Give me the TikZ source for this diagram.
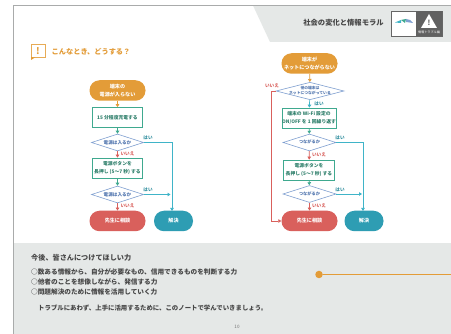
\documentclass[tikz,border=0pt]{standalone}
\usepackage{fontspec}
\setmainfont{Noto Sans CJK JP}
\usetikzlibrary{arrows.meta,shapes.geometric}
\definecolor{cOrange}{HTML}{E39C38}
\definecolor{cGreen}{HTML}{3FA98F}
\definecolor{cBlueLine}{HTML}{7F9FD0}
\definecolor{cBlueTxt}{HTML}{4F74AE}
\definecolor{cTeal}{HTML}{3FB4C8}
\definecolor{cRed}{HTML}{D9605C}
\definecolor{cDarkTeal}{HTML}{2E9DB3}
\definecolor{cBand}{HTML}{E5E8E7}
\definecolor{cEdge}{HTML}{A9ABAB}
\newcommand{\dlabel}[1]{\smash{\raisebox{-0.28em}{\makebox[0pt]{\begin{tabular}{@{}c@{}}#1\end{tabular}}}}}
\tikzset{
  term/.style={rounded corners=10pt,minimum height=20.5pt,inner sep=0pt,text=white,font=\bfseries\fontsize{5.1}{8.5}\selectfont,align=center},
  startterm/.style={term,fill=cOrange,minimum width=56pt},
  failterm/.style={term,fill=cRed,minimum width=56pt},
  doneterm/.style={term,fill=cDarkTeal,minimum width=39pt},
  procbox/.style={draw=cGreen,line width=0.7pt,fill=white,minimum width=50.5pt,minimum height=20pt,inner sep=0pt,text=cGreen!75!black,font=\bfseries\fontsize{4.8}{8}\selectfont,align=center},
  decide/.style={diamond,draw=cBlueLine,line width=0.6pt,fill=white,inner sep=0pt,text=cBlueTxt,font=\bfseries\fontsize{4.6}{7.5}\selectfont},
  arrowO/.style={draw=cOrange,line width=0.7pt,-{Triangle[length=3pt,width=3.5pt]}},
  arrowG/.style={draw=cGreen,line width=0.7pt,-{Triangle[length=3pt,width=3.5pt]}},
  arrowR/.style={draw=cRed,line width=0.7pt,-{Triangle[length=3pt,width=3.5pt]}},
  arrowT/.style={draw=cTeal,line width=0.7pt,-{Triangle[length=3pt,width=3.5pt]}},
  lblY/.style={text=cTeal!80!black,font=\bfseries\fontsize{4.6}{5}\selectfont,inner sep=0pt},
  lblN/.style={text=cRed,font=\bfseries\fontsize{4.6}{5}\selectfont,inner sep=0pt},
  body/.style={anchor=west,inner sep=0pt,text=black!72,font=\bfseries\fontsize{6.65}{7}\selectfont}
}
\begin{document}
\begin{tikzpicture}[x=1pt,y=-1pt]
\useasboundingbox (0,0) rectangle (451,334);
\fill[white] (0,0) rectangle (451,334);
% frame and bands
\fill[cBand] (253,5.5) -- (451,5.5) -- (451,42) -- (270,42) -- cycle;
\fill[cBand] (13.5,243) rectangle (451,334);
\draw[cEdge,line width=0.9pt] (13.5,334) -- (13.5,5.5) -- (451,5.5);
% header
\node[inner sep=0pt,text=black!72,font=\bfseries\fontsize{7.3}{8}\selectfont] (title) at (343.5,23) {社会の変化と情報モラル};
\node[draw=black!60,line width=0.6pt,fill=white,minimum width=51pt,minimum height=25pt,inner sep=0pt] (logo) at (416.5,23.5) {};
\fill[black!62] (416,11.5) rectangle (442,36);
\fill[white] (429,14) -- (437,28) -- (421,28) -- cycle;
\node[inner sep=0pt,text=black!65,font=\bfseries\fontsize{7}{7}\selectfont] (bang) at (429,23) {!};
\node[inner sep=0pt,text=white,font=\fontsize{3.1}{4}\selectfont] (logotxt) at (429,32.5) {情報トラブル編};
\fill[cTeal] (395,22.5) -- (401,20) -- (401,23) -- cycle;
\fill[cGreen] (401,20) -- (406,19) -- (405,23) -- cycle;
\fill[cBlueLine] (406,19) -- (410,20) -- (413,23) -- (406,22) -- cycle;
% section heading
\draw[cOrange!85,line width=1pt] (31,44.5) rectangle (45,57.5);
\fill[cOrange] (31,57) -- (31,60) -- (35,57.5) -- cycle;
\node[inner sep=0pt,text=cOrange,font=\bfseries\fontsize{9}{9}\selectfont] (bang2) at (38,51) {!};
\node[inner sep=0pt,anchor=west,text=cOrange,font=\bfseries\fontsize{7.2}{8}\selectfont] (head) at (51.5,52) {こんなとき、どうする？};
% left flow
\node[startterm] (s1) at (117.5,90.5) {端末の\\電源が入らない};
\node[procbox] (p1) at (117.5,117.5) {15 分程度充電する};
\node[decide,minimum width=52pt,minimum height=17pt] (d1) at (117.5,142.5) {\dlabel{電源は入るか}};
\node[procbox] (p2) at (117.5,168) {電源ボタンを\\長押し (5〜7 秒) する};
\node[decide,minimum width=52pt,minimum height=17pt] (d2) at (117.5,194.5) {\dlabel{電源は入るか}};
\node[failterm] (f1) at (117.5,221) {先生に相談};
\node[doneterm] (e1) at (173.5,221) {解決};
\draw[arrowO] (s1) -- (p1);
\draw[arrowG] (p1) -- (d1);
\draw[arrowR] (d1) -- (p2);
\draw[arrowG] (p2) -- (d2);
\draw[arrowR] (d2) -- (f1);
\coordinate (j1) at (172,142.5);
\coordinate (j1b) at (172,211);
\coordinate (k1) at (170.5,194.5);
\draw[arrowT] (d1.east) -- (j1) -- (j1b);
\draw[arrowT] (d2.east) -- (k1);
\node[lblY] (y1) at (148,138) {はい};
\node[lblN] (n1) at (127.5,154) {いいえ};
\node[lblY] (y2) at (148,190) {はい};
\node[lblN] (n2) at (127.5,206) {いいえ};
% right flow
\node[startterm] (s2) at (309.5,63.5) {端末が\\ネットにつながらない};
\node[decide,minimum width=68pt,minimum height=17.5pt,font=\bfseries\fontsize{3.8}{5.8}\selectfont] (d3) at (310,91) {\dlabel{他の端末は\\ネットにつながっている}};
\node[procbox] (p3) at (309,118) {端末の Wi-Fi 設定の\\ON/OFF を 1 回繰り返す};
\node[decide,minimum width=53pt,minimum height=17pt,font=\bfseries\fontsize{4.2}{7}\selectfont] (d4) at (309.5,142.5) {\dlabel{つながるか}};
\node[procbox] (p4) at (309,170) {電源ボタンを\\長押し (5〜7 秒) する};
\node[decide,minimum width=53pt,minimum height=17pt,font=\bfseries\fontsize{4.2}{7}\selectfont] (d5) at (309.5,194) {\dlabel{つながるか}};
\node[failterm] (f2) at (309.5,221) {先生に相談};
\node[doneterm] (e2) at (364,221) {解決};
\draw[arrowO] (s2) -- (d3);
\draw[arrowT] (d3) -- (p3);
\draw[arrowG] (p3) -- (d4);
\draw[arrowR] (d4) -- (p4);
\draw[arrowG] (p4) -- (d5);
\draw[arrowR] (d5) -- (f2);
\coordinate (j2) at (363,142.5);
\coordinate (j2b) at (363,211);
\coordinate (k2) at (362,194);
\coordinate (r1) at (271,91);
\coordinate (r2) at (271,221);
\draw[arrowT] (d4.east) -- (j2) -- (j2b);
\draw[arrowT] (d5.east) -- (k2);
\draw[arrowR] (d3.west) -- (r1) -- (r2) -- (f2.west);
\node[lblN] (n3) at (272,86) {いいえ};
\node[lblY] (y3) at (319,104) {はい};
\node[lblY] (y4) at (340,138) {はい};
\node[lblN] (n4) at (319,155) {いいえ};
\node[lblY] (y5) at (340,190) {はい};
\node[lblN] (n5) at (319,206) {いいえ};
% bottom text
\node[body,font=\bfseries\fontsize{7.15}{8}\selectfont] (t0) at (31,257.5) {今後、皆さんにつけてほしい力};
\node[body] (t1) at (31,271.7) {○数ある情報から、自分が必要なもの、信用できるものを判断する力};
\node[body] (t2) at (31,281.7) {○他者のことを想像しながら、発信する力};
\node[body] (t3) at (31,292) {○問題解決のために情報を活用していく力};
\node[body,font=\bfseries\fontsize{6.4}{7}\selectfont] (t4) at (38,308) {トラブルにあわず、上手に活用するために、このノートで学んでいきましょう。};
\node[inner sep=0pt,text=black!55,font=\fontsize{4.6}{5}\selectfont] (pg) at (237,327) {10};
\node[circle,fill=cOrange,minimum size=7.5pt,inner sep=0pt] (dot) at (319,274.5) {};
\coordinate (edge) at (451,274.5);
\draw[cOrange,line width=1.2pt] (dot) -- (edge);
\end{tikzpicture}
\end{document}
